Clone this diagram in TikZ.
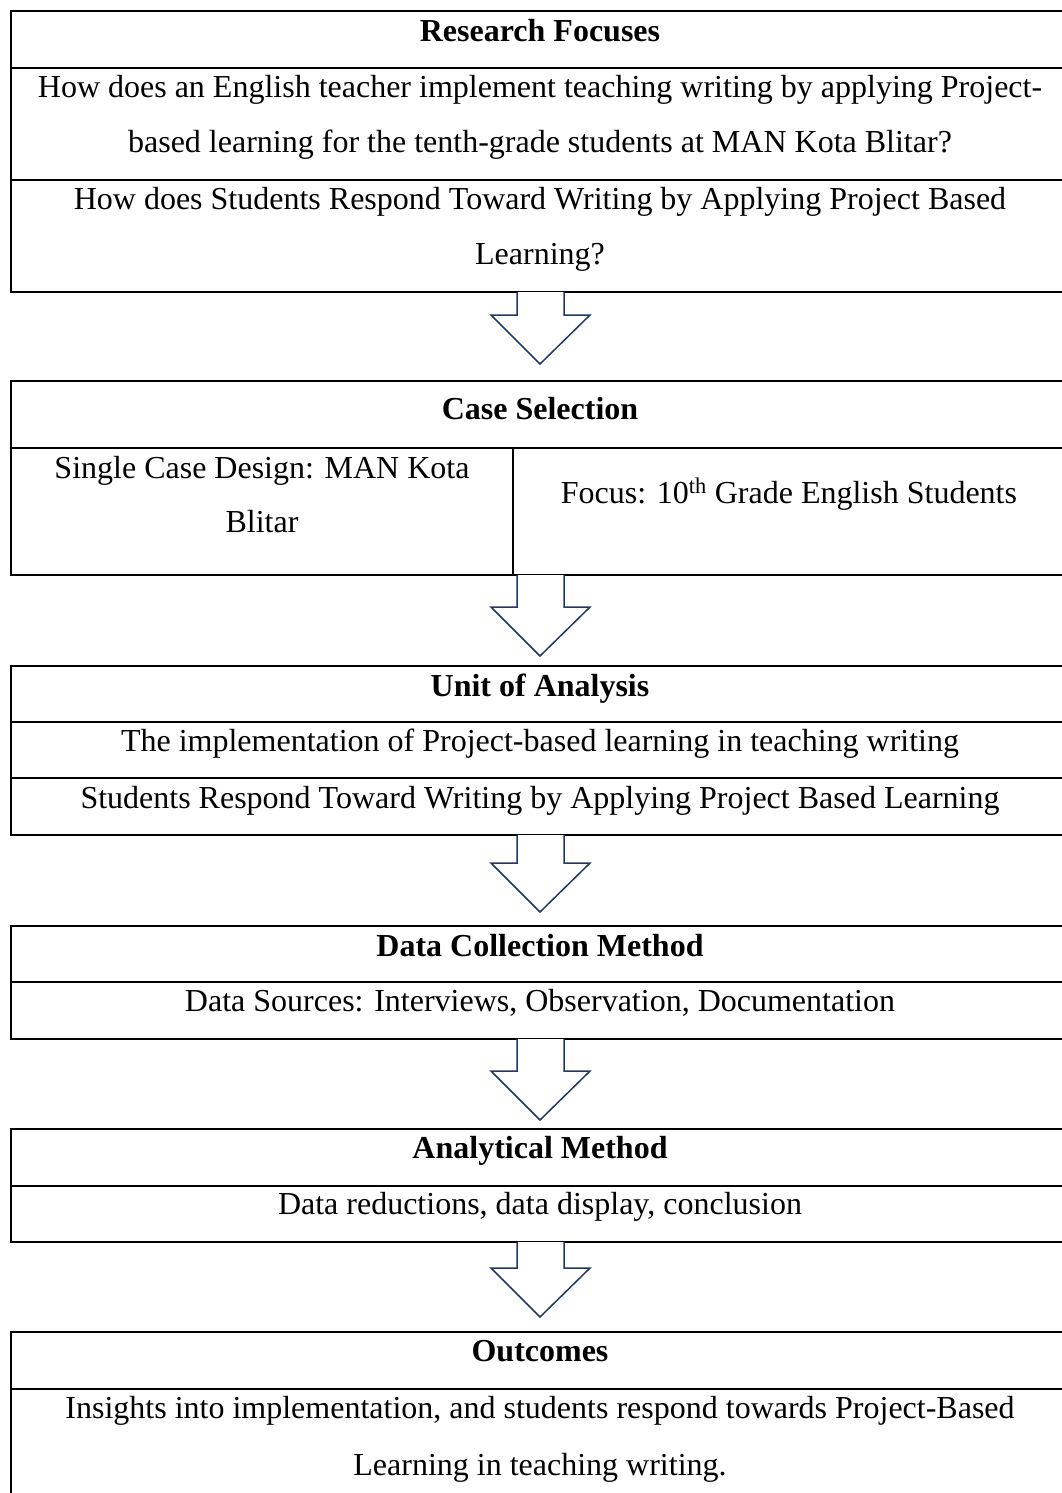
\documentclass[tikz,border=0pt]{standalone}
\usepackage{fontspec}
\setmainfont{Liberation Serif}
\definecolor{arrowblue}{HTML}{1F3864}
\newcommand\flowarrow[3]{% #1 name, #2 top y, #3 shoulder y
  \coordinate (#1-top) at (540,#2);
  \coordinate (#1-tip) at (540,{#3+49});
  \draw[blockarrow] (517,#2) -- (517,#3) -- (491,#3) -- (#1-tip) -- (590,#3) -- (564,#3) -- (564,#2);}
\begin{document}
\begin{tikzpicture}[x=1pt,y=-1pt,
  txt/.style={anchor=base, inner sep=0pt, font=\fontsize{32}{38}\selectfont},
  ttl/.style={anchor=base, inner sep=0pt, font=\fontsize{32}{38}\selectfont\bfseries},
  rule/.style={line width=2.2pt, black},
  blockarrow/.style={draw=arrowblue, line width=1.5pt, fill=white, line join=miter}]
\useasboundingbox (0,0) rectangle (1062,1493);

% ---------- Box 1: Research Focuses
\draw[rule] (1075,11) -- (11,11) -- (11,292) -- (1075,292);
\draw[rule] (11,68) -- (1075,68);
\draw[rule] (11,180) -- (1075,180);
\node[ttl] (rf) at (540,42) {Research Focuses};
\node[txt] (q1a) at (540,98) {How does an English teacher implement teaching writing by applying Project-};
\node[txt] (q1b) at (540,153) {based learning for the tenth-grade students at MAN Kota Blitar?};
\node[txt] (q2a) at (540,209) {How does Students Respond Toward Writing by Applying Project Based};
\node[txt] (q2b) at (540,264) {Learning?};

\flowarrow{a1}{292}{315}

% ---------- Box 2: Case Selection
\draw[rule] (1075,381) -- (11,381) -- (11,575) -- (1075,575);
\draw[rule] (11,448) -- (1075,448);
\draw[rule] (513,448) -- (513,575);
\node[ttl] (cs) at (540,419) {Case Selection};
\node[txt] (sc1) at (262,478) {Single Case Design: MAN Kota};
\node[txt] (sc2) at (262,532) {Blitar};
\node[txt] (fc) at (789,503) {Focus: 10\textsuperscript{th} Grade English Students};

\flowarrow{a2}{575}{607}

% ---------- Box 3: Unit of Analysis
\draw[rule] (1075,666) -- (11,666) -- (11,835) -- (1075,835);
\draw[rule] (11,722) -- (1075,722);
\draw[rule] (11,778) -- (1075,778);
\node[ttl] (ua) at (540,696) {Unit of Analysis};
\node[txt] (ua1) at (540,751) {The implementation of Project-based learning in teaching writing};
\node[txt] (ua2) at (540,808) {Students Respond Toward Writing by Applying Project Based Learning};

\flowarrow{a3}{835}{863}

% ---------- Box 4: Data Collection Method
\draw[rule] (1075,926) -- (11,926) -- (11,1039) -- (1075,1039);
\draw[rule] (11,982) -- (1075,982);
\node[ttl] (dc) at (540,956) {Data Collection Method};
\node[txt] (dc1) at (540,1011) {Data Sources: Interviews, Observation, Documentation};

\flowarrow{a4}{1039}{1071}

% ---------- Box 5: Analytical Method
\draw[rule] (1075,1129) -- (11,1129) -- (11,1242) -- (1075,1242);
\draw[rule] (11,1186) -- (1075,1186);
\node[ttl] (am) at (540,1158) {Analytical Method};
\node[txt] (am1) at (540,1214) {Data reductions, data display, conclusion};

\flowarrow{a5}{1242}{1268}

% ---------- Box 6: Outcomes
\draw[rule] (1075,1332) -- (11,1332) -- (11,1500);
\draw[rule] (11,1389) -- (1075,1389);
\node[ttl] (oc) at (540,1361) {Outcomes};
\node[txt] (oc1) at (540,1418) {Insights into implementation, and students respond towards Project-Based};
\node[txt] (oc2) at (540,1475) {Learning in teaching writing.};
\end{tikzpicture}
\end{document}
